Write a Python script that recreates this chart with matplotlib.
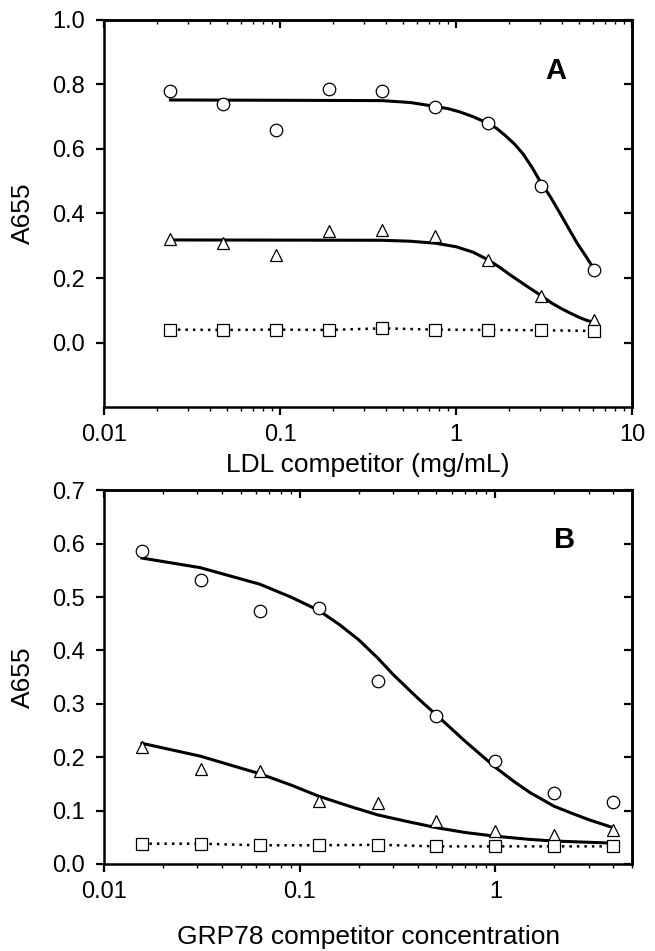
#!/usr/bin/env python3
import numpy as np
import matplotlib.pyplot as plt
from matplotlib.ticker import FormatStrFormatter, FuncFormatter, NullFormatter

plt.rcParams['font.family'] = ['Liberation Sans', 'DejaVu Sans']

# Panel A data (LDL competitor, doubling dilutions)
ldl_conc = [0.0238, 0.0476, 0.0953, 0.19, 0.381, 0.762, 1.52, 3.05, 6.1]
a_circle = [0.78, 0.74, 0.66, 0.785, 0.78, 0.73, 0.68, 0.485, 0.225]
a_triangle = [0.322, 0.307, 0.27, 0.345, 0.35, 0.33, 0.255, 0.143, 0.07]
a_square = [0.04, 0.039, 0.04, 0.039, 0.044, 0.04, 0.039, 0.038, 0.036]

# fitted curves
a_circle_fit_x = [0.0238, 0.1, 0.38, 0.55, 0.74, 0.9, 1.05, 1.25, 1.5, 1.7, 1.9, 2.15, 2.4, 2.7, 3.0, 3.45, 3.9, 4.4, 4.9, 5.5, 6.1]
a_circle_fit_y = [0.752, 0.751, 0.750, 0.744, 0.733, 0.725, 0.715, 0.700, 0.681, 0.664, 0.642, 0.615, 0.585, 0.543, 0.500, 0.450, 0.400, 0.350, 0.306, 0.265, 0.226]
a_triangle_fit_x = [0.0238, 0.38, 0.55, 0.76, 1.0, 1.25, 1.5, 1.75, 2.0, 2.5, 3.05, 3.5, 4.0, 4.5, 5.0, 5.5, 6.1]
a_triangle_fit_y = [0.318, 0.317, 0.314, 0.308, 0.297, 0.280, 0.258, 0.235, 0.212, 0.176, 0.145, 0.122, 0.104, 0.090, 0.078, 0.069, 0.062]

# Panel B data (GRP78 competitor)
grp_conc = [0.0156, 0.03125, 0.0625, 0.125, 0.25, 0.5, 1, 2, 4]
b_circle = [0.586, 0.532, 0.474, 0.480, 0.342, 0.277, 0.193, 0.133, 0.117]
b_triangle = [0.219, 0.178, 0.175, 0.118, 0.115, 0.081, 0.062, 0.055, 0.064]
b_square = [0.038, 0.038, 0.035, 0.035, 0.036, 0.033, 0.033, 0.033, 0.033]

# fitted curves
b_circle_fit_x = [0.0156, 0.031, 0.0625, 0.09, 0.125, 0.16, 0.2, 0.25, 0.3, 0.4, 0.5, 0.7, 1, 1.25, 1.5, 2, 2.5, 3, 4]
b_circle_fit_y = [0.573, 0.555, 0.524, 0.500, 0.475, 0.448, 0.420, 0.386, 0.355, 0.311, 0.279, 0.230, 0.181, 0.154, 0.134, 0.108, 0.094, 0.083, 0.068]
b_triangle_fit_x = [0.0156, 0.031, 0.0625, 0.09, 0.125, 0.18, 0.25, 0.35, 0.5, 0.7, 1, 1.5, 2, 4]
b_triangle_fit_y = [0.226, 0.202, 0.169, 0.148, 0.127, 0.108, 0.092, 0.080, 0.068, 0.059, 0.052, 0.046, 0.043, 0.039]

fig = plt.figure(figsize=(6.55, 9.51), dpi=100)
axA = fig.add_axes([0.159, 0.572, 0.806, 0.407])
axB = fig.add_axes([0.159, 0.0915, 0.806, 0.393])

mk = dict(markerfacecolor='white', markeredgecolor='black', markeredgewidth=0.9, linestyle='none', zorder=3)


def draw_panel(ax, x, circ, tri, sq, cfx, cfy, tfx, tfy):
    ax.plot(cfx, cfy, color='black', lw=2.2, zorder=2)
    ax.plot(tfx, tfy, color='black', lw=2.2, zorder=2)
    ax.plot(x, sq, color='black', lw=1.8, linestyle=(0, (1, 2)), zorder=2)
    ax.plot(x, circ, marker='o', markersize=9, **mk)
    ax.plot(x, tri, marker='^', markersize=9, **mk)
    ax.plot(x, sq, marker='s', markersize=8, **mk)


def style_axes(ax, yticks):
    ax.set_xscale('log')
    for s in ax.spines.values():
        s.set_linewidth(1.8)
    ax.set_yticks(yticks)
    ax.yaxis.set_major_formatter(FormatStrFormatter('%.1f'))
    ax.xaxis.set_major_formatter(FuncFormatter(lambda v, p: '%g' % v))
    ax.xaxis.set_minor_formatter(NullFormatter())
    ax.tick_params(which='major', direction='out', length=6, width=1.6, labelsize=17)
    ax.tick_params(axis='x', which='major', pad=6)
    ax.tick_params(axis='y', which='major', pad=8)
    ax.tick_params(which='minor', direction='out', length=3, width=1.0)
    top = ax.secondary_xaxis('top')
    top.tick_params(which='major', direction='in', length=6, width=1.6)
    top.tick_params(which='minor', direction='in', length=3, width=1.0)
    top.xaxis.set_major_formatter(NullFormatter())
    top.xaxis.set_minor_formatter(NullFormatter())
    right = ax.secondary_yaxis('right')
    right.set_yticks(yticks)
    right.tick_params(which='major', direction='in', length=6, width=1.6)
    right.yaxis.set_major_formatter(NullFormatter())
    for sec in (top, right):
        for s in sec.spines.values():
            s.set_linewidth(1.8)


draw_panel(axA, ldl_conc, a_circle, a_triangle, a_square,
           a_circle_fit_x, a_circle_fit_y, a_triangle_fit_x, a_triangle_fit_y)
style_axes(axA, np.arange(0, 1.01, 0.2))
axA.set_xlim(0.01, 10)
axA.set_ylim(-0.2, 1.0)
axA.set_xlabel('LDL competitor (mg/mL)', fontsize=19, labelpad=5)
axA.set_ylabel('A655', fontsize=19, labelpad=12)
axA.text(0.856, 0.868, 'A', transform=axA.transAxes, fontsize=21,
         fontweight='bold', ha='center', va='center')

draw_panel(axB, grp_conc, b_circle, b_triangle, b_square,
           b_circle_fit_x, b_circle_fit_y, b_triangle_fit_x, b_triangle_fit_y)
style_axes(axB, np.arange(0, 0.71, 0.1))
axB.set_xlim(0.01, 5)
axB.set_ylim(0, 0.7)
axB.set_xlabel('GRP78 competitor concentration', fontsize=19, labelpad=16)
axB.set_ylabel('A655', fontsize=19, labelpad=12)
axB.text(0.873, 0.866, 'B', transform=axB.transAxes, fontsize=21,
         fontweight='bold', ha='center', va='center')

fig.savefig('out.png', dpi=100)
